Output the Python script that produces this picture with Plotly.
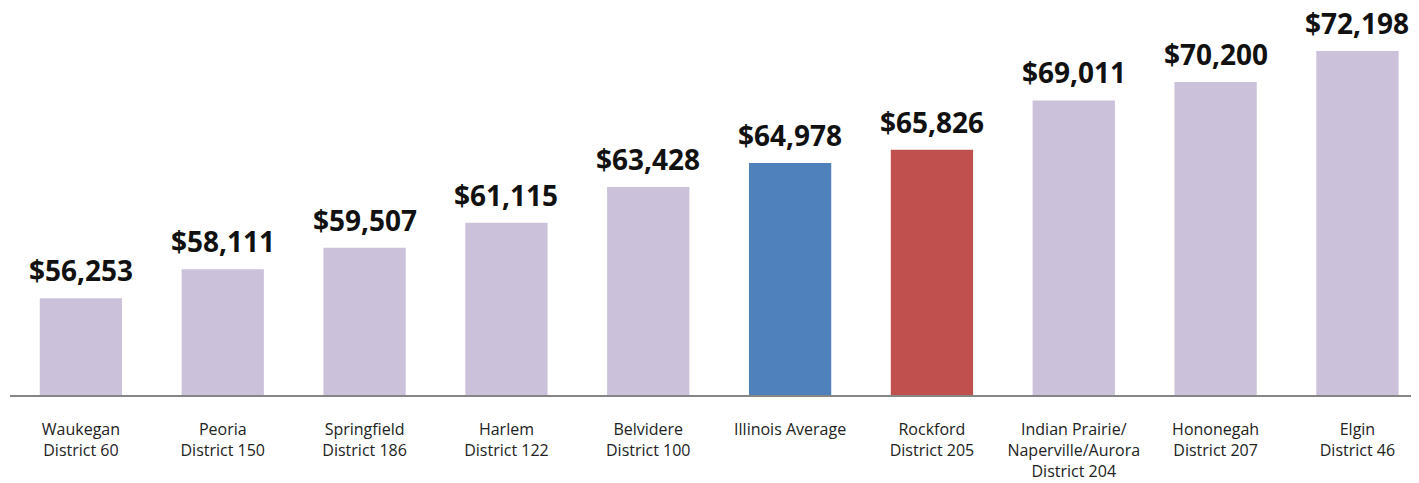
import plotly.graph_objects as go

categories = ["Waukegan<br>District 60", "Peoria<br>District 150", "Springfield<br>District 186",
              "Harlem<br>District 122", "Belvidere<br>District 100", "Illinois Average",
              "Rockford<br>District 205", "Indian Prairie/<br>Naperville/Aurora<br>District 204",
              "Hononegah<br>District 207", "Elgin<br>District 46"]
values = [56253, 58111, 59507, 61115, 63428, 64978, 65826, 69011, 70200, 72198]
colors = ["#CCC1DA"] * 5 + ["#4F81BD", "#C0504D"] + ["#CCC1DA"] * 3
value_labels = ["${:,}".format(v) for v in values]

x = list(range(len(categories)))

fig = go.Figure()
fig.add_trace(go.Bar(x=x, y=values, marker=dict(color=colors, line=dict(width=0)), width=0.58,
                     hoverinfo="skip"))

for xi, v, lab in zip(x, values, value_labels):
    fig.add_annotation(x=xi, y=v, text="<b>" + lab + "</b>", showarrow=False,
                       yanchor="bottom", yshift=8, borderpad=0,
                       font=dict(family="Open Sans", size=28, color="#111111"))

fig.update_layout(
    width=1411, height=475,
    margin=dict(l=2, r=0, t=0, b=88),
    plot_bgcolor="white", paper_bgcolor="white",
    showlegend=False,
    xaxis=dict(range=[-0.5, 9.434], tickmode="array", tickvals=x, ticktext=categories,
               showline=True, linecolor="#868686", linewidth=1.5, showgrid=False,
               ticks="", zeroline=False, ticklabelstandoff=19,
               tickfont=dict(family="Open Sans", size=16, color="#222222")),
    yaxis=dict(range=[50000, 74981], visible=False, showgrid=False, zeroline=False),
)

fig.write_html("out.html")
